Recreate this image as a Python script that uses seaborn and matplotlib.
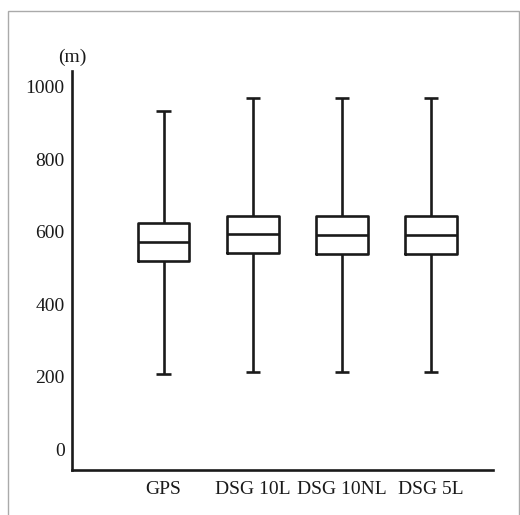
import numpy as np
import pandas as pd
import matplotlib
matplotlib.use("Agg")
import matplotlib.pyplot as plt
import seaborn as sns
from matplotlib.patches import Rectangle

categories = ["GPS", "DSG 10L", "DSG 10NL", "DSG 5L"]
whisker_low = [208, 213, 213, 213]
q1 = [520, 540, 539, 539]
median = [571, 593, 591, 591]
q3 = [625, 642, 642, 643]
whisker_high = [933, 968, 968, 968]
yticks = [0, 200, 400, 600, 800, 1000]

rows = []
for i, c in enumerate(categories):
    for v in (whisker_low[i], q1[i], median[i], q3[i], whisker_high[i]):
        rows.append({"method": c, "value": v})
df = pd.DataFrame(rows)

sns.set_theme(style="white")
plt.rcParams["font.family"] = ["Liberation Serif", "DejaVu Serif"]

fig = plt.figure(figsize=(5.2, 5.15), dpi=100)
ax = fig.add_axes([71.7 / 520, 45 / 515, (493 - 71.7) / 520, (470 - 71) / 515])

lc = "#1a1a1a"
lw = 1.9
sns.boxplot(data=df, x="method", y="value", order=categories, ax=ax,
            whis=(0, 100), width=0.58, fill=False, color=lc, linewidth=lw,
            showfliers=False, capwidths=0.16,
            boxprops=dict(color=lc, linewidth=lw),
            medianprops=dict(color=lc, linewidth=lw, solid_capstyle="butt"),
            whiskerprops=dict(color=lc, linewidth=lw, solid_capstyle="butt"),
            capprops=dict(color=lc, linewidth=lw, solid_capstyle="butt"))

ax.set_xlim(-1.03, 3.695)
ax.set_ylim(-57, 1043)
ax.set_yticks(yticks)
ax.set_yticklabels([str(t) for t in yticks])
ax.set_xlabel("")
ax.set_ylabel("")
for s in ["top", "right"]:
    ax.spines[s].set_visible(False)
for s in ["left", "bottom"]:
    ax.spines[s].set_color(lc)
    ax.spines[s].set_linewidth(lw)
ax.tick_params(axis="both", length=0, labelsize=14, colors="#1a1a1a")
ax.tick_params(axis="y", pad=5)
ax.tick_params(axis="x", pad=8)
for lab in ax.get_xticklabels():
    lab.set_x(lab.get_position()[0])

fig.text(58 / 520, 1 - 57 / 515, "(m)", fontsize=14, color="#1a1a1a",
         ha="left", va="center")

fig.patches.append(Rectangle((8 / 520, -0.05), (519 - 8) / 520, (515 - 11) / 515 + 0.05,
                             transform=fig.transFigure, fill=False,
                             edgecolor="#aaaaaa", linewidth=1.0))

fig.savefig("out.png", dpi=100)
